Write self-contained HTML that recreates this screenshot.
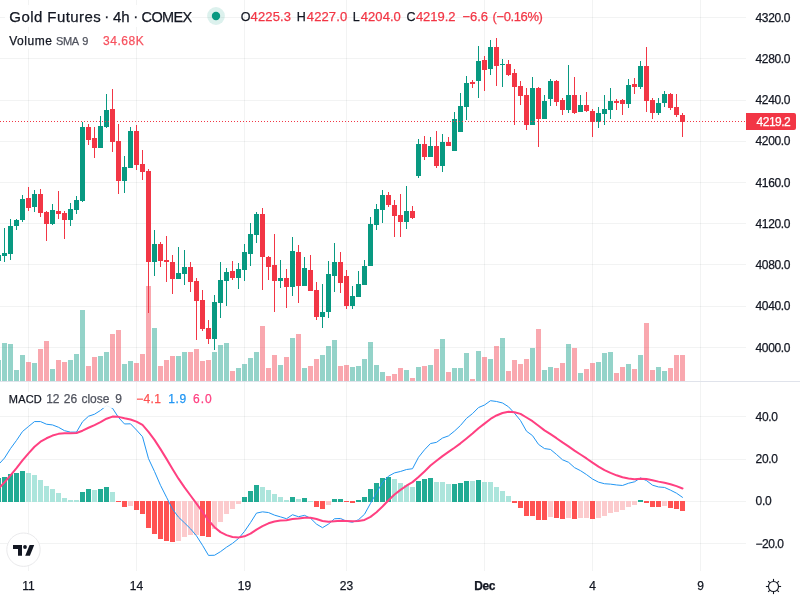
<!DOCTYPE html>
<html lang="en"><head><meta charset="utf-8"><title>Gold Futures 4h COMEX</title>
<style>html,body{margin:0;padding:0;background:#fff;width:800px;height:600px;overflow:hidden}svg{display:block;position:absolute;left:0;top:0}text{font-family:"Liberation Sans", Arial, sans-serif;white-space:pre;stroke-width:0.25px}</style>
</head><body>
<svg width="800" height="600" viewBox="0 0 800 600">
<rect width="800" height="600" fill="#fff"/>
<g shape-rendering="crispEdges" fill="#2A2E39" fill-opacity="0.06">
<rect x="28" y="0" width="1" height="381"/>
<rect x="28" y="382" width="1" height="189"/>
<rect x="136" y="0" width="1" height="381"/>
<rect x="136" y="382" width="1" height="189"/>
<rect x="244" y="0" width="1" height="381"/>
<rect x="244" y="382" width="1" height="189"/>
<rect x="346" y="0" width="1" height="381"/>
<rect x="346" y="382" width="1" height="189"/>
<rect x="484" y="0" width="1" height="381"/>
<rect x="484" y="382" width="1" height="189"/>
<rect x="592" y="0" width="1" height="381"/>
<rect x="592" y="382" width="1" height="189"/>
<rect x="700" y="0" width="1" height="381"/>
<rect x="700" y="382" width="1" height="189"/>
<rect x="0" y="17" width="746" height="1"/>
<rect x="0" y="58" width="746" height="1"/>
<rect x="0" y="100" width="746" height="1"/>
<rect x="0" y="141" width="746" height="1"/>
<rect x="0" y="182" width="746" height="1"/>
<rect x="0" y="223" width="746" height="1"/>
<rect x="0" y="264" width="746" height="1"/>
<rect x="0" y="306" width="746" height="1"/>
<rect x="0" y="347" width="746" height="1"/>
<rect x="0" y="416" width="746" height="1"/>
<rect x="0" y="459" width="746" height="1"/>
<rect x="0" y="501" width="746" height="1"/>
<rect x="0" y="543" width="746" height="1"/>
</g>
<g shape-rendering="crispEdges">
<rect x="-4" y="360" width="5" height="21" fill="#089981" fill-opacity="0.43"/>
<rect x="2" y="343" width="5" height="38" fill="#089981" fill-opacity="0.43"/>
<rect x="8" y="344" width="5" height="37" fill="#089981" fill-opacity="0.43"/>
<rect x="14" y="370" width="5" height="11" fill="#089981" fill-opacity="0.43"/>
<rect x="20" y="355" width="5" height="26" fill="#089981" fill-opacity="0.43"/>
<rect x="26" y="362" width="5" height="19" fill="#F23645" fill-opacity="0.43"/>
<rect x="32" y="363" width="5" height="18" fill="#089981" fill-opacity="0.43"/>
<rect x="38" y="349" width="5" height="32" fill="#F23645" fill-opacity="0.43"/>
<rect x="44" y="341" width="5" height="40" fill="#F23645" fill-opacity="0.43"/>
<rect x="50" y="369" width="5" height="12" fill="#089981" fill-opacity="0.43"/>
<rect x="56" y="360" width="5" height="21" fill="#F23645" fill-opacity="0.43"/>
<rect x="62" y="362" width="5" height="19" fill="#F23645" fill-opacity="0.43"/>
<rect x="68" y="360" width="5" height="21" fill="#089981" fill-opacity="0.43"/>
<rect x="74" y="354" width="5" height="27" fill="#089981" fill-opacity="0.43"/>
<rect x="80" y="310" width="5" height="71" fill="#089981" fill-opacity="0.43"/>
<rect x="86" y="366" width="5" height="15" fill="#F23645" fill-opacity="0.43"/>
<rect x="92" y="357" width="5" height="24" fill="#F23645" fill-opacity="0.43"/>
<rect x="98" y="356" width="5" height="25" fill="#089981" fill-opacity="0.43"/>
<rect x="104" y="352" width="5" height="29" fill="#089981" fill-opacity="0.43"/>
<rect x="110" y="334" width="5" height="47" fill="#F23645" fill-opacity="0.43"/>
<rect x="116" y="330" width="5" height="51" fill="#F23645" fill-opacity="0.43"/>
<rect x="122" y="364" width="5" height="17" fill="#089981" fill-opacity="0.43"/>
<rect x="128" y="361" width="5" height="20" fill="#089981" fill-opacity="0.43"/>
<rect x="134" y="363" width="5" height="18" fill="#F23645" fill-opacity="0.43"/>
<rect x="140" y="354" width="5" height="27" fill="#F23645" fill-opacity="0.43"/>
<rect x="146" y="286" width="5" height="95" fill="#F23645" fill-opacity="0.43"/>
<rect x="152" y="328" width="5" height="53" fill="#089981" fill-opacity="0.43"/>
<rect x="158" y="366" width="5" height="15" fill="#F23645" fill-opacity="0.43"/>
<rect x="164" y="360" width="5" height="21" fill="#F23645" fill-opacity="0.43"/>
<rect x="170" y="356" width="5" height="25" fill="#F23645" fill-opacity="0.43"/>
<rect x="176" y="356" width="5" height="25" fill="#089981" fill-opacity="0.43"/>
<rect x="182" y="352" width="5" height="29" fill="#089981" fill-opacity="0.43"/>
<rect x="188" y="352" width="5" height="29" fill="#F23645" fill-opacity="0.43"/>
<rect x="194" y="349" width="5" height="32" fill="#F23645" fill-opacity="0.43"/>
<rect x="200" y="361" width="5" height="20" fill="#F23645" fill-opacity="0.43"/>
<rect x="206" y="360" width="5" height="21" fill="#F23645" fill-opacity="0.43"/>
<rect x="212" y="352" width="5" height="29" fill="#089981" fill-opacity="0.43"/>
<rect x="218" y="345" width="5" height="36" fill="#089981" fill-opacity="0.43"/>
<rect x="224" y="343" width="5" height="38" fill="#089981" fill-opacity="0.43"/>
<rect x="230" y="371" width="5" height="10" fill="#F23645" fill-opacity="0.43"/>
<rect x="236" y="368" width="5" height="13" fill="#089981" fill-opacity="0.43"/>
<rect x="242" y="364" width="5" height="17" fill="#089981" fill-opacity="0.43"/>
<rect x="248" y="358" width="5" height="23" fill="#089981" fill-opacity="0.43"/>
<rect x="254" y="352" width="5" height="29" fill="#089981" fill-opacity="0.43"/>
<rect x="260" y="326" width="5" height="55" fill="#F23645" fill-opacity="0.43"/>
<rect x="266" y="368" width="5" height="13" fill="#F23645" fill-opacity="0.43"/>
<rect x="272" y="355" width="5" height="26" fill="#F23645" fill-opacity="0.43"/>
<rect x="278" y="365" width="5" height="16" fill="#089981" fill-opacity="0.43"/>
<rect x="284" y="357" width="5" height="24" fill="#F23645" fill-opacity="0.43"/>
<rect x="290" y="338" width="5" height="43" fill="#089981" fill-opacity="0.43"/>
<rect x="296" y="334" width="5" height="47" fill="#F23645" fill-opacity="0.43"/>
<rect x="302" y="368" width="5" height="13" fill="#089981" fill-opacity="0.43"/>
<rect x="308" y="366" width="5" height="15" fill="#F23645" fill-opacity="0.43"/>
<rect x="314" y="359" width="5" height="22" fill="#F23645" fill-opacity="0.43"/>
<rect x="320" y="355" width="5" height="26" fill="#089981" fill-opacity="0.43"/>
<rect x="326" y="346" width="5" height="35" fill="#089981" fill-opacity="0.43"/>
<rect x="332" y="340" width="5" height="41" fill="#089981" fill-opacity="0.43"/>
<rect x="338" y="366" width="5" height="15" fill="#F23645" fill-opacity="0.43"/>
<rect x="344" y="365" width="5" height="16" fill="#F23645" fill-opacity="0.43"/>
<rect x="350" y="367" width="5" height="14" fill="#089981" fill-opacity="0.43"/>
<rect x="356" y="366" width="5" height="15" fill="#089981" fill-opacity="0.43"/>
<rect x="362" y="359" width="5" height="22" fill="#089981" fill-opacity="0.43"/>
<rect x="368" y="342" width="5" height="39" fill="#089981" fill-opacity="0.43"/>
<rect x="374" y="365" width="5" height="16" fill="#089981" fill-opacity="0.43"/>
<rect x="380" y="372" width="5" height="9" fill="#089981" fill-opacity="0.43"/>
<rect x="386" y="376" width="5" height="5" fill="#F23645" fill-opacity="0.43"/>
<rect x="392" y="374" width="5" height="7" fill="#F23645" fill-opacity="0.43"/>
<rect x="398" y="368" width="5" height="13" fill="#F23645" fill-opacity="0.43"/>
<rect x="404" y="370" width="5" height="11" fill="#089981" fill-opacity="0.43"/>
<rect x="410" y="378" width="5" height="3" fill="#F23645" fill-opacity="0.43"/>
<rect x="416" y="367" width="5" height="14" fill="#089981" fill-opacity="0.43"/>
<rect x="422" y="366" width="5" height="15" fill="#F23645" fill-opacity="0.43"/>
<rect x="428" y="365" width="5" height="16" fill="#089981" fill-opacity="0.43"/>
<rect x="434" y="349" width="5" height="32" fill="#F23645" fill-opacity="0.43"/>
<rect x="440" y="339" width="5" height="42" fill="#089981" fill-opacity="0.43"/>
<rect x="446" y="372" width="5" height="9" fill="#F23645" fill-opacity="0.43"/>
<rect x="452" y="368" width="5" height="13" fill="#089981" fill-opacity="0.43"/>
<rect x="458" y="368" width="5" height="13" fill="#089981" fill-opacity="0.43"/>
<rect x="464" y="353" width="5" height="28" fill="#089981" fill-opacity="0.43"/>
<rect x="470" y="379" width="5" height="2" fill="#F23645" fill-opacity="0.43"/>
<rect x="476" y="351" width="5" height="30" fill="#089981" fill-opacity="0.43"/>
<rect x="482" y="357" width="5" height="24" fill="#F23645" fill-opacity="0.43"/>
<rect x="488" y="359" width="5" height="22" fill="#089981" fill-opacity="0.43"/>
<rect x="494" y="346" width="5" height="35" fill="#F23645" fill-opacity="0.43"/>
<rect x="500" y="338" width="5" height="43" fill="#089981" fill-opacity="0.43"/>
<rect x="506" y="371" width="5" height="10" fill="#F23645" fill-opacity="0.43"/>
<rect x="512" y="360" width="5" height="21" fill="#F23645" fill-opacity="0.43"/>
<rect x="518" y="364" width="5" height="17" fill="#F23645" fill-opacity="0.43"/>
<rect x="524" y="359" width="5" height="22" fill="#F23645" fill-opacity="0.43"/>
<rect x="530" y="348" width="5" height="33" fill="#089981" fill-opacity="0.43"/>
<rect x="536" y="329" width="5" height="52" fill="#F23645" fill-opacity="0.43"/>
<rect x="542" y="370" width="5" height="11" fill="#089981" fill-opacity="0.43"/>
<rect x="548" y="367" width="5" height="14" fill="#089981" fill-opacity="0.43"/>
<rect x="554" y="368" width="5" height="13" fill="#F23645" fill-opacity="0.43"/>
<rect x="560" y="363" width="5" height="18" fill="#F23645" fill-opacity="0.43"/>
<rect x="566" y="344" width="5" height="37" fill="#089981" fill-opacity="0.43"/>
<rect x="572" y="348" width="5" height="33" fill="#F23645" fill-opacity="0.43"/>
<rect x="578" y="373" width="5" height="8" fill="#089981" fill-opacity="0.43"/>
<rect x="584" y="369" width="5" height="12" fill="#F23645" fill-opacity="0.43"/>
<rect x="590" y="363" width="5" height="18" fill="#F23645" fill-opacity="0.43"/>
<rect x="596" y="362" width="5" height="19" fill="#089981" fill-opacity="0.43"/>
<rect x="602" y="353" width="5" height="28" fill="#089981" fill-opacity="0.43"/>
<rect x="608" y="352" width="5" height="29" fill="#089981" fill-opacity="0.43"/>
<rect x="614" y="373" width="5" height="8" fill="#F23645" fill-opacity="0.43"/>
<rect x="620" y="367" width="5" height="14" fill="#F23645" fill-opacity="0.43"/>
<rect x="626" y="364" width="5" height="17" fill="#089981" fill-opacity="0.43"/>
<rect x="632" y="369" width="5" height="12" fill="#F23645" fill-opacity="0.43"/>
<rect x="638" y="355" width="5" height="26" fill="#089981" fill-opacity="0.43"/>
<rect x="644" y="323" width="5" height="58" fill="#F23645" fill-opacity="0.43"/>
<rect x="650" y="370" width="5" height="11" fill="#F23645" fill-opacity="0.43"/>
<rect x="656" y="367" width="5" height="14" fill="#089981" fill-opacity="0.43"/>
<rect x="662" y="371" width="5" height="10" fill="#089981" fill-opacity="0.43"/>
<rect x="668" y="368" width="5" height="13" fill="#F23645" fill-opacity="0.43"/>
<rect x="674" y="355" width="5" height="26" fill="#F23645" fill-opacity="0.43"/>
<rect x="680" y="355" width="5" height="26" fill="#F23645" fill-opacity="0.43"/>
</g>
<g shape-rendering="crispEdges">
<rect x="-2" y="250" width="1" height="13" fill="#089981"/>
<rect x="-4" y="255" width="5" height="6" fill="#089981"/>
<rect x="4" y="228" width="1" height="34" fill="#089981"/>
<rect x="2" y="253" width="5" height="3" fill="#089981"/>
<rect x="10" y="219" width="1" height="41" fill="#089981"/>
<rect x="8" y="226" width="5" height="28" fill="#089981"/>
<rect x="16" y="219" width="1" height="11" fill="#089981"/>
<rect x="14" y="220" width="5" height="6" fill="#089981"/>
<rect x="22" y="195" width="1" height="27" fill="#089981"/>
<rect x="20" y="199" width="5" height="21" fill="#089981"/>
<rect x="28" y="187" width="1" height="24" fill="#F23645"/>
<rect x="26" y="198" width="5" height="10" fill="#F23645"/>
<rect x="34" y="190" width="1" height="22" fill="#089981"/>
<rect x="32" y="194" width="5" height="13" fill="#089981"/>
<rect x="40" y="189" width="1" height="28" fill="#F23645"/>
<rect x="38" y="194" width="5" height="19" fill="#F23645"/>
<rect x="46" y="211" width="1" height="30" fill="#F23645"/>
<rect x="44" y="212" width="5" height="12" fill="#F23645"/>
<rect x="52" y="204" width="1" height="21" fill="#089981"/>
<rect x="50" y="210" width="5" height="14" fill="#089981"/>
<rect x="58" y="191" width="1" height="28" fill="#F23645"/>
<rect x="56" y="211" width="5" height="3" fill="#F23645"/>
<rect x="64" y="211" width="1" height="28" fill="#F23645"/>
<rect x="62" y="213" width="5" height="7" fill="#F23645"/>
<rect x="70" y="203" width="1" height="23" fill="#089981"/>
<rect x="68" y="209" width="5" height="11" fill="#089981"/>
<rect x="76" y="196" width="1" height="18" fill="#089981"/>
<rect x="74" y="200" width="5" height="10" fill="#089981"/>
<rect x="82" y="122" width="1" height="80" fill="#089981"/>
<rect x="80" y="127" width="5" height="74" fill="#089981"/>
<rect x="88" y="124" width="1" height="21" fill="#F23645"/>
<rect x="86" y="127" width="5" height="13" fill="#F23645"/>
<rect x="94" y="127" width="1" height="31" fill="#F23645"/>
<rect x="92" y="138" width="5" height="10" fill="#F23645"/>
<rect x="100" y="116" width="1" height="32" fill="#089981"/>
<rect x="98" y="126" width="5" height="22" fill="#089981"/>
<rect x="106" y="94" width="1" height="34" fill="#089981"/>
<rect x="104" y="110" width="5" height="17" fill="#089981"/>
<rect x="112" y="89" width="1" height="63" fill="#F23645"/>
<rect x="110" y="109" width="5" height="33" fill="#F23645"/>
<rect x="118" y="124" width="1" height="70" fill="#F23645"/>
<rect x="116" y="141" width="5" height="40" fill="#F23645"/>
<rect x="124" y="156" width="1" height="37" fill="#089981"/>
<rect x="122" y="167" width="5" height="14" fill="#089981"/>
<rect x="130" y="127" width="1" height="41" fill="#089981"/>
<rect x="128" y="131" width="5" height="37" fill="#089981"/>
<rect x="136" y="125" width="1" height="45" fill="#F23645"/>
<rect x="134" y="131" width="5" height="34" fill="#F23645"/>
<rect x="142" y="150" width="1" height="30" fill="#F23645"/>
<rect x="140" y="164" width="5" height="8" fill="#F23645"/>
<rect x="148" y="169" width="1" height="144" fill="#F23645"/>
<rect x="146" y="171" width="5" height="91" fill="#F23645"/>
<rect x="154" y="230" width="1" height="46" fill="#089981"/>
<rect x="152" y="244" width="5" height="18" fill="#089981"/>
<rect x="160" y="242" width="1" height="25" fill="#F23645"/>
<rect x="158" y="244" width="5" height="17" fill="#F23645"/>
<rect x="166" y="236" width="1" height="46" fill="#F23645"/>
<rect x="164" y="260" width="5" height="2" fill="#F23645"/>
<rect x="172" y="255" width="1" height="39" fill="#F23645"/>
<rect x="170" y="262" width="5" height="17" fill="#F23645"/>
<rect x="178" y="247" width="1" height="32" fill="#089981"/>
<rect x="176" y="273" width="5" height="6" fill="#089981"/>
<rect x="184" y="250" width="1" height="35" fill="#089981"/>
<rect x="182" y="267" width="5" height="7" fill="#089981"/>
<rect x="190" y="262" width="1" height="30" fill="#F23645"/>
<rect x="188" y="267" width="5" height="15" fill="#F23645"/>
<rect x="196" y="278" width="1" height="62" fill="#F23645"/>
<rect x="194" y="281" width="5" height="20" fill="#F23645"/>
<rect x="202" y="290" width="1" height="41" fill="#F23645"/>
<rect x="200" y="300" width="5" height="29" fill="#F23645"/>
<rect x="208" y="320" width="1" height="24" fill="#F23645"/>
<rect x="206" y="328" width="5" height="11" fill="#F23645"/>
<rect x="214" y="295" width="1" height="55" fill="#089981"/>
<rect x="212" y="302" width="5" height="37" fill="#089981"/>
<rect x="220" y="262" width="1" height="56" fill="#089981"/>
<rect x="218" y="280" width="5" height="23" fill="#089981"/>
<rect x="226" y="268" width="1" height="38" fill="#089981"/>
<rect x="224" y="272" width="5" height="9" fill="#089981"/>
<rect x="232" y="261" width="1" height="19" fill="#F23645"/>
<rect x="230" y="271" width="5" height="7" fill="#F23645"/>
<rect x="238" y="263" width="1" height="26" fill="#089981"/>
<rect x="236" y="269" width="5" height="9" fill="#089981"/>
<rect x="244" y="244" width="1" height="37" fill="#089981"/>
<rect x="242" y="252" width="5" height="18" fill="#089981"/>
<rect x="250" y="223" width="1" height="43" fill="#089981"/>
<rect x="248" y="234" width="5" height="20" fill="#089981"/>
<rect x="256" y="212" width="1" height="31" fill="#089981"/>
<rect x="254" y="214" width="5" height="21" fill="#089981"/>
<rect x="262" y="208" width="1" height="82" fill="#F23645"/>
<rect x="260" y="214" width="5" height="43" fill="#F23645"/>
<rect x="268" y="256" width="1" height="24" fill="#F23645"/>
<rect x="266" y="257" width="5" height="10" fill="#F23645"/>
<rect x="274" y="234" width="1" height="78" fill="#F23645"/>
<rect x="272" y="265" width="5" height="16" fill="#F23645"/>
<rect x="280" y="260" width="1" height="28" fill="#089981"/>
<rect x="278" y="278" width="5" height="3" fill="#089981"/>
<rect x="286" y="269" width="1" height="39" fill="#F23645"/>
<rect x="284" y="278" width="5" height="9" fill="#F23645"/>
<rect x="292" y="237" width="1" height="59" fill="#089981"/>
<rect x="290" y="251" width="5" height="36" fill="#089981"/>
<rect x="298" y="245" width="1" height="58" fill="#F23645"/>
<rect x="296" y="252" width="5" height="34" fill="#F23645"/>
<rect x="304" y="257" width="1" height="29" fill="#089981"/>
<rect x="302" y="268" width="5" height="18" fill="#089981"/>
<rect x="310" y="255" width="1" height="36" fill="#F23645"/>
<rect x="308" y="270" width="5" height="21" fill="#F23645"/>
<rect x="316" y="282" width="1" height="38" fill="#F23645"/>
<rect x="314" y="290" width="5" height="27" fill="#F23645"/>
<rect x="322" y="284" width="1" height="44" fill="#089981"/>
<rect x="320" y="312" width="5" height="5" fill="#089981"/>
<rect x="328" y="261" width="1" height="57" fill="#089981"/>
<rect x="326" y="274" width="5" height="38" fill="#089981"/>
<rect x="334" y="243" width="1" height="49" fill="#089981"/>
<rect x="332" y="262" width="5" height="14" fill="#089981"/>
<rect x="340" y="252" width="1" height="41" fill="#F23645"/>
<rect x="338" y="262" width="5" height="21" fill="#F23645"/>
<rect x="346" y="270" width="1" height="39" fill="#F23645"/>
<rect x="344" y="276" width="5" height="30" fill="#F23645"/>
<rect x="352" y="286" width="1" height="23" fill="#089981"/>
<rect x="350" y="296" width="5" height="10" fill="#089981"/>
<rect x="358" y="271" width="1" height="26" fill="#089981"/>
<rect x="356" y="284" width="5" height="13" fill="#089981"/>
<rect x="364" y="260" width="1" height="25" fill="#089981"/>
<rect x="362" y="266" width="5" height="19" fill="#089981"/>
<rect x="370" y="217" width="1" height="49" fill="#089981"/>
<rect x="368" y="224" width="5" height="42" fill="#089981"/>
<rect x="376" y="204" width="1" height="26" fill="#089981"/>
<rect x="374" y="209" width="5" height="16" fill="#089981"/>
<rect x="382" y="190" width="1" height="33" fill="#089981"/>
<rect x="380" y="195" width="5" height="15" fill="#089981"/>
<rect x="388" y="192" width="1" height="15" fill="#F23645"/>
<rect x="386" y="195" width="5" height="10" fill="#F23645"/>
<rect x="394" y="200" width="1" height="37" fill="#F23645"/>
<rect x="392" y="205" width="5" height="11" fill="#F23645"/>
<rect x="400" y="194" width="1" height="43" fill="#F23645"/>
<rect x="398" y="215" width="5" height="7" fill="#F23645"/>
<rect x="406" y="186" width="1" height="43" fill="#089981"/>
<rect x="404" y="211" width="5" height="11" fill="#089981"/>
<rect x="412" y="206" width="1" height="13" fill="#F23645"/>
<rect x="410" y="211" width="5" height="7" fill="#F23645"/>
<rect x="418" y="139" width="1" height="39" fill="#089981"/>
<rect x="416" y="144" width="5" height="32" fill="#089981"/>
<rect x="424" y="136" width="1" height="24" fill="#F23645"/>
<rect x="422" y="144" width="5" height="13" fill="#F23645"/>
<rect x="430" y="137" width="1" height="20" fill="#089981"/>
<rect x="428" y="146" width="5" height="11" fill="#089981"/>
<rect x="436" y="131" width="1" height="37" fill="#F23645"/>
<rect x="434" y="146" width="5" height="20" fill="#F23645"/>
<rect x="442" y="134" width="1" height="38" fill="#089981"/>
<rect x="440" y="142" width="5" height="24" fill="#089981"/>
<rect x="448" y="137" width="1" height="9" fill="#F23645"/>
<rect x="446" y="142" width="5" height="4" fill="#F23645"/>
<rect x="454" y="112" width="1" height="39" fill="#089981"/>
<rect x="452" y="119" width="5" height="32" fill="#089981"/>
<rect x="460" y="93" width="1" height="39" fill="#089981"/>
<rect x="458" y="106" width="5" height="26" fill="#089981"/>
<rect x="466" y="76" width="1" height="44" fill="#089981"/>
<rect x="464" y="83" width="5" height="24" fill="#089981"/>
<rect x="472" y="80" width="1" height="8" fill="#F23645"/>
<rect x="470" y="82" width="5" height="2" fill="#F23645"/>
<rect x="478" y="46" width="1" height="52" fill="#089981"/>
<rect x="476" y="61" width="5" height="20" fill="#089981"/>
<rect x="484" y="56" width="1" height="35" fill="#F23645"/>
<rect x="482" y="60" width="5" height="10" fill="#F23645"/>
<rect x="490" y="40" width="1" height="35" fill="#089981"/>
<rect x="488" y="47" width="5" height="22" fill="#089981"/>
<rect x="496" y="38" width="1" height="48" fill="#F23645"/>
<rect x="494" y="47" width="5" height="19" fill="#F23645"/>
<rect x="502" y="59" width="1" height="28" fill="#089981"/>
<rect x="500" y="64" width="5" height="1" fill="#089981"/>
<rect x="508" y="60" width="1" height="16" fill="#F23645"/>
<rect x="506" y="64" width="5" height="11" fill="#F23645"/>
<rect x="514" y="69" width="1" height="56" fill="#F23645"/>
<rect x="512" y="73" width="5" height="14" fill="#F23645"/>
<rect x="520" y="81" width="1" height="24" fill="#F23645"/>
<rect x="518" y="86" width="5" height="10" fill="#F23645"/>
<rect x="526" y="88" width="1" height="42" fill="#F23645"/>
<rect x="524" y="95" width="5" height="30" fill="#F23645"/>
<rect x="532" y="77" width="1" height="48" fill="#089981"/>
<rect x="530" y="88" width="5" height="37" fill="#089981"/>
<rect x="538" y="87" width="1" height="60" fill="#F23645"/>
<rect x="536" y="88" width="5" height="31" fill="#F23645"/>
<rect x="544" y="95" width="1" height="24" fill="#089981"/>
<rect x="542" y="101" width="5" height="18" fill="#089981"/>
<rect x="550" y="79" width="1" height="27" fill="#089981"/>
<rect x="548" y="81" width="5" height="18" fill="#089981"/>
<rect x="556" y="80" width="1" height="26" fill="#F23645"/>
<rect x="554" y="81" width="5" height="21" fill="#F23645"/>
<rect x="562" y="98" width="1" height="17" fill="#F23645"/>
<rect x="560" y="100" width="5" height="10" fill="#F23645"/>
<rect x="568" y="65" width="1" height="48" fill="#089981"/>
<rect x="566" y="95" width="5" height="15" fill="#089981"/>
<rect x="574" y="77" width="1" height="37" fill="#F23645"/>
<rect x="572" y="95" width="5" height="18" fill="#F23645"/>
<rect x="580" y="95" width="1" height="17" fill="#089981"/>
<rect x="578" y="105" width="5" height="7" fill="#089981"/>
<rect x="586" y="92" width="1" height="20" fill="#F23645"/>
<rect x="584" y="105" width="5" height="6" fill="#F23645"/>
<rect x="592" y="109" width="1" height="28" fill="#F23645"/>
<rect x="590" y="111" width="5" height="11" fill="#F23645"/>
<rect x="598" y="107" width="1" height="21" fill="#089981"/>
<rect x="596" y="113" width="5" height="9" fill="#089981"/>
<rect x="604" y="95" width="1" height="30" fill="#089981"/>
<rect x="602" y="109" width="5" height="5" fill="#089981"/>
<rect x="610" y="88" width="1" height="31" fill="#089981"/>
<rect x="608" y="101" width="5" height="9" fill="#089981"/>
<rect x="616" y="99" width="1" height="11" fill="#F23645"/>
<rect x="614" y="101" width="5" height="2" fill="#F23645"/>
<rect x="622" y="99" width="1" height="16" fill="#F23645"/>
<rect x="620" y="100" width="5" height="4" fill="#F23645"/>
<rect x="628" y="79" width="1" height="29" fill="#089981"/>
<rect x="626" y="85" width="5" height="19" fill="#089981"/>
<rect x="634" y="78" width="1" height="16" fill="#F23645"/>
<rect x="632" y="84" width="5" height="3" fill="#F23645"/>
<rect x="640" y="61" width="1" height="28" fill="#089981"/>
<rect x="638" y="66" width="5" height="21" fill="#089981"/>
<rect x="646" y="47" width="1" height="65" fill="#F23645"/>
<rect x="644" y="66" width="5" height="35" fill="#F23645"/>
<rect x="652" y="98" width="1" height="21" fill="#F23645"/>
<rect x="650" y="100" width="5" height="13" fill="#F23645"/>
<rect x="658" y="98" width="1" height="17" fill="#089981"/>
<rect x="656" y="103" width="5" height="10" fill="#089981"/>
<rect x="664" y="91" width="1" height="16" fill="#089981"/>
<rect x="662" y="94" width="5" height="9" fill="#089981"/>
<rect x="670" y="93" width="1" height="17" fill="#F23645"/>
<rect x="668" y="94" width="5" height="14" fill="#F23645"/>
<rect x="676" y="94" width="1" height="23" fill="#F23645"/>
<rect x="674" y="107" width="5" height="8" fill="#F23645"/>
<rect x="682" y="113" width="1" height="24" fill="#F23645"/>
<rect x="680" y="115" width="5" height="7" fill="#F23645"/>
</g>
<g shape-rendering="crispEdges" fill="#F23645">
<rect x="0" y="121" width="1" height="1"/><rect x="3" y="121" width="1" height="1"/><rect x="6" y="121" width="1" height="1"/><rect x="9" y="121" width="1" height="1"/><rect x="12" y="121" width="1" height="1"/><rect x="15" y="121" width="1" height="1"/><rect x="18" y="121" width="1" height="1"/><rect x="21" y="121" width="1" height="1"/><rect x="24" y="121" width="1" height="1"/><rect x="27" y="121" width="1" height="1"/><rect x="30" y="121" width="1" height="1"/><rect x="33" y="121" width="1" height="1"/><rect x="36" y="121" width="1" height="1"/><rect x="39" y="121" width="1" height="1"/><rect x="42" y="121" width="1" height="1"/><rect x="45" y="121" width="1" height="1"/><rect x="48" y="121" width="1" height="1"/><rect x="51" y="121" width="1" height="1"/><rect x="54" y="121" width="1" height="1"/><rect x="57" y="121" width="1" height="1"/><rect x="60" y="121" width="1" height="1"/><rect x="63" y="121" width="1" height="1"/><rect x="66" y="121" width="1" height="1"/><rect x="69" y="121" width="1" height="1"/><rect x="72" y="121" width="1" height="1"/><rect x="75" y="121" width="1" height="1"/><rect x="78" y="121" width="1" height="1"/><rect x="81" y="121" width="1" height="1"/><rect x="84" y="121" width="1" height="1"/><rect x="87" y="121" width="1" height="1"/><rect x="90" y="121" width="1" height="1"/><rect x="93" y="121" width="1" height="1"/><rect x="96" y="121" width="1" height="1"/><rect x="99" y="121" width="1" height="1"/><rect x="102" y="121" width="1" height="1"/><rect x="105" y="121" width="1" height="1"/><rect x="108" y="121" width="1" height="1"/><rect x="111" y="121" width="1" height="1"/><rect x="114" y="121" width="1" height="1"/><rect x="117" y="121" width="1" height="1"/><rect x="120" y="121" width="1" height="1"/><rect x="123" y="121" width="1" height="1"/><rect x="126" y="121" width="1" height="1"/><rect x="129" y="121" width="1" height="1"/><rect x="132" y="121" width="1" height="1"/><rect x="135" y="121" width="1" height="1"/><rect x="138" y="121" width="1" height="1"/><rect x="141" y="121" width="1" height="1"/><rect x="144" y="121" width="1" height="1"/><rect x="147" y="121" width="1" height="1"/><rect x="150" y="121" width="1" height="1"/><rect x="153" y="121" width="1" height="1"/><rect x="156" y="121" width="1" height="1"/><rect x="159" y="121" width="1" height="1"/><rect x="162" y="121" width="1" height="1"/><rect x="165" y="121" width="1" height="1"/><rect x="168" y="121" width="1" height="1"/><rect x="171" y="121" width="1" height="1"/><rect x="174" y="121" width="1" height="1"/><rect x="177" y="121" width="1" height="1"/><rect x="180" y="121" width="1" height="1"/><rect x="183" y="121" width="1" height="1"/><rect x="186" y="121" width="1" height="1"/><rect x="189" y="121" width="1" height="1"/><rect x="192" y="121" width="1" height="1"/><rect x="195" y="121" width="1" height="1"/><rect x="198" y="121" width="1" height="1"/><rect x="201" y="121" width="1" height="1"/><rect x="204" y="121" width="1" height="1"/><rect x="207" y="121" width="1" height="1"/><rect x="210" y="121" width="1" height="1"/><rect x="213" y="121" width="1" height="1"/><rect x="216" y="121" width="1" height="1"/><rect x="219" y="121" width="1" height="1"/><rect x="222" y="121" width="1" height="1"/><rect x="225" y="121" width="1" height="1"/><rect x="228" y="121" width="1" height="1"/><rect x="231" y="121" width="1" height="1"/><rect x="234" y="121" width="1" height="1"/><rect x="237" y="121" width="1" height="1"/><rect x="240" y="121" width="1" height="1"/><rect x="243" y="121" width="1" height="1"/><rect x="246" y="121" width="1" height="1"/><rect x="249" y="121" width="1" height="1"/><rect x="252" y="121" width="1" height="1"/><rect x="255" y="121" width="1" height="1"/><rect x="258" y="121" width="1" height="1"/><rect x="261" y="121" width="1" height="1"/><rect x="264" y="121" width="1" height="1"/><rect x="267" y="121" width="1" height="1"/><rect x="270" y="121" width="1" height="1"/><rect x="273" y="121" width="1" height="1"/><rect x="276" y="121" width="1" height="1"/><rect x="279" y="121" width="1" height="1"/><rect x="282" y="121" width="1" height="1"/><rect x="285" y="121" width="1" height="1"/><rect x="288" y="121" width="1" height="1"/><rect x="291" y="121" width="1" height="1"/><rect x="294" y="121" width="1" height="1"/><rect x="297" y="121" width="1" height="1"/><rect x="300" y="121" width="1" height="1"/><rect x="303" y="121" width="1" height="1"/><rect x="306" y="121" width="1" height="1"/><rect x="309" y="121" width="1" height="1"/><rect x="312" y="121" width="1" height="1"/><rect x="315" y="121" width="1" height="1"/><rect x="318" y="121" width="1" height="1"/><rect x="321" y="121" width="1" height="1"/><rect x="324" y="121" width="1" height="1"/><rect x="327" y="121" width="1" height="1"/><rect x="330" y="121" width="1" height="1"/><rect x="333" y="121" width="1" height="1"/><rect x="336" y="121" width="1" height="1"/><rect x="339" y="121" width="1" height="1"/><rect x="342" y="121" width="1" height="1"/><rect x="345" y="121" width="1" height="1"/><rect x="348" y="121" width="1" height="1"/><rect x="351" y="121" width="1" height="1"/><rect x="354" y="121" width="1" height="1"/><rect x="357" y="121" width="1" height="1"/><rect x="360" y="121" width="1" height="1"/><rect x="363" y="121" width="1" height="1"/><rect x="366" y="121" width="1" height="1"/><rect x="369" y="121" width="1" height="1"/><rect x="372" y="121" width="1" height="1"/><rect x="375" y="121" width="1" height="1"/><rect x="378" y="121" width="1" height="1"/><rect x="381" y="121" width="1" height="1"/><rect x="384" y="121" width="1" height="1"/><rect x="387" y="121" width="1" height="1"/><rect x="390" y="121" width="1" height="1"/><rect x="393" y="121" width="1" height="1"/><rect x="396" y="121" width="1" height="1"/><rect x="399" y="121" width="1" height="1"/><rect x="402" y="121" width="1" height="1"/><rect x="405" y="121" width="1" height="1"/><rect x="408" y="121" width="1" height="1"/><rect x="411" y="121" width="1" height="1"/><rect x="414" y="121" width="1" height="1"/><rect x="417" y="121" width="1" height="1"/><rect x="420" y="121" width="1" height="1"/><rect x="423" y="121" width="1" height="1"/><rect x="426" y="121" width="1" height="1"/><rect x="429" y="121" width="1" height="1"/><rect x="432" y="121" width="1" height="1"/><rect x="435" y="121" width="1" height="1"/><rect x="438" y="121" width="1" height="1"/><rect x="441" y="121" width="1" height="1"/><rect x="444" y="121" width="1" height="1"/><rect x="447" y="121" width="1" height="1"/><rect x="450" y="121" width="1" height="1"/><rect x="453" y="121" width="1" height="1"/><rect x="456" y="121" width="1" height="1"/><rect x="459" y="121" width="1" height="1"/><rect x="462" y="121" width="1" height="1"/><rect x="465" y="121" width="1" height="1"/><rect x="468" y="121" width="1" height="1"/><rect x="471" y="121" width="1" height="1"/><rect x="474" y="121" width="1" height="1"/><rect x="477" y="121" width="1" height="1"/><rect x="480" y="121" width="1" height="1"/><rect x="483" y="121" width="1" height="1"/><rect x="486" y="121" width="1" height="1"/><rect x="489" y="121" width="1" height="1"/><rect x="492" y="121" width="1" height="1"/><rect x="495" y="121" width="1" height="1"/><rect x="498" y="121" width="1" height="1"/><rect x="501" y="121" width="1" height="1"/><rect x="504" y="121" width="1" height="1"/><rect x="507" y="121" width="1" height="1"/><rect x="510" y="121" width="1" height="1"/><rect x="513" y="121" width="1" height="1"/><rect x="516" y="121" width="1" height="1"/><rect x="519" y="121" width="1" height="1"/><rect x="522" y="121" width="1" height="1"/><rect x="525" y="121" width="1" height="1"/><rect x="528" y="121" width="1" height="1"/><rect x="531" y="121" width="1" height="1"/><rect x="534" y="121" width="1" height="1"/><rect x="537" y="121" width="1" height="1"/><rect x="540" y="121" width="1" height="1"/><rect x="543" y="121" width="1" height="1"/><rect x="546" y="121" width="1" height="1"/><rect x="549" y="121" width="1" height="1"/><rect x="552" y="121" width="1" height="1"/><rect x="555" y="121" width="1" height="1"/><rect x="558" y="121" width="1" height="1"/><rect x="561" y="121" width="1" height="1"/><rect x="564" y="121" width="1" height="1"/><rect x="567" y="121" width="1" height="1"/><rect x="570" y="121" width="1" height="1"/><rect x="573" y="121" width="1" height="1"/><rect x="576" y="121" width="1" height="1"/><rect x="579" y="121" width="1" height="1"/><rect x="582" y="121" width="1" height="1"/><rect x="585" y="121" width="1" height="1"/><rect x="588" y="121" width="1" height="1"/><rect x="591" y="121" width="1" height="1"/><rect x="594" y="121" width="1" height="1"/><rect x="597" y="121" width="1" height="1"/><rect x="600" y="121" width="1" height="1"/><rect x="603" y="121" width="1" height="1"/><rect x="606" y="121" width="1" height="1"/><rect x="609" y="121" width="1" height="1"/><rect x="612" y="121" width="1" height="1"/><rect x="615" y="121" width="1" height="1"/><rect x="618" y="121" width="1" height="1"/><rect x="621" y="121" width="1" height="1"/><rect x="624" y="121" width="1" height="1"/><rect x="627" y="121" width="1" height="1"/><rect x="630" y="121" width="1" height="1"/><rect x="633" y="121" width="1" height="1"/><rect x="636" y="121" width="1" height="1"/><rect x="639" y="121" width="1" height="1"/><rect x="642" y="121" width="1" height="1"/><rect x="645" y="121" width="1" height="1"/><rect x="648" y="121" width="1" height="1"/><rect x="651" y="121" width="1" height="1"/><rect x="654" y="121" width="1" height="1"/><rect x="657" y="121" width="1" height="1"/><rect x="660" y="121" width="1" height="1"/><rect x="663" y="121" width="1" height="1"/><rect x="666" y="121" width="1" height="1"/><rect x="669" y="121" width="1" height="1"/><rect x="672" y="121" width="1" height="1"/><rect x="675" y="121" width="1" height="1"/><rect x="678" y="121" width="1" height="1"/><rect x="681" y="121" width="1" height="1"/><rect x="684" y="121" width="1" height="1"/><rect x="687" y="121" width="1" height="1"/><rect x="690" y="121" width="1" height="1"/><rect x="693" y="121" width="1" height="1"/><rect x="696" y="121" width="1" height="1"/><rect x="699" y="121" width="1" height="1"/><rect x="702" y="121" width="1" height="1"/><rect x="705" y="121" width="1" height="1"/><rect x="708" y="121" width="1" height="1"/><rect x="711" y="121" width="1" height="1"/><rect x="714" y="121" width="1" height="1"/><rect x="717" y="121" width="1" height="1"/><rect x="720" y="121" width="1" height="1"/><rect x="723" y="121" width="1" height="1"/><rect x="726" y="121" width="1" height="1"/><rect x="729" y="121" width="1" height="1"/><rect x="732" y="121" width="1" height="1"/><rect x="735" y="121" width="1" height="1"/><rect x="738" y="121" width="1" height="1"/><rect x="741" y="121" width="1" height="1"/><rect x="744" y="121" width="1" height="1"/>
</g>
<rect x="0" y="381" width="800" height="1" fill="#E0E3EB" shape-rendering="crispEdges"/>
<g shape-rendering="crispEdges">
<rect x="-4" y="478" width="5" height="24" fill="#22AB94"/>
<rect x="2" y="477" width="5" height="25" fill="#22AB94"/>
<rect x="8" y="474" width="5" height="28" fill="#22AB94"/>
<rect x="14" y="473" width="5" height="29" fill="#22AB94"/>
<rect x="20" y="471" width="5" height="31" fill="#22AB94"/>
<rect x="26" y="473" width="5" height="29" fill="#ACE5DC"/>
<rect x="32" y="475" width="5" height="27" fill="#ACE5DC"/>
<rect x="38" y="480" width="5" height="22" fill="#ACE5DC"/>
<rect x="44" y="486" width="5" height="16" fill="#ACE5DC"/>
<rect x="50" y="489" width="5" height="13" fill="#ACE5DC"/>
<rect x="56" y="493" width="5" height="9" fill="#ACE5DC"/>
<rect x="62" y="498" width="5" height="4" fill="#ACE5DC"/>
<rect x="68" y="500" width="5" height="2" fill="#ACE5DC"/>
<rect x="74" y="500" width="5" height="2" fill="#ACE5DC"/>
<rect x="80" y="492" width="5" height="10" fill="#22AB94"/>
<rect x="86" y="489" width="5" height="13" fill="#22AB94"/>
<rect x="92" y="490" width="5" height="12" fill="#ACE5DC"/>
<rect x="98" y="489" width="5" height="13" fill="#22AB94"/>
<rect x="104" y="487" width="5" height="15" fill="#22AB94"/>
<rect x="110" y="492" width="5" height="10" fill="#ACE5DC"/>
<rect x="116" y="501" width="5" height="1" fill="#FF5252"/>
<rect x="122" y="501" width="5" height="6" fill="#FF5252"/>
<rect x="128" y="501" width="5" height="5" fill="#FCCBCD"/>
<rect x="134" y="501" width="5" height="9" fill="#FF5252"/>
<rect x="140" y="501" width="5" height="13" fill="#FF5252"/>
<rect x="146" y="501" width="5" height="27" fill="#FF5252"/>
<rect x="152" y="501" width="5" height="33" fill="#FF5252"/>
<rect x="158" y="501" width="5" height="38" fill="#FF5252"/>
<rect x="164" y="501" width="5" height="40" fill="#FF5252"/>
<rect x="170" y="501" width="5" height="41" fill="#FF5252"/>
<rect x="176" y="501" width="5" height="40" fill="#FCCBCD"/>
<rect x="182" y="501" width="5" height="36" fill="#FCCBCD"/>
<rect x="188" y="501" width="5" height="34" fill="#FCCBCD"/>
<rect x="194" y="501" width="5" height="34" fill="#FCCBCD"/>
<rect x="200" y="501" width="5" height="35" fill="#FF5252"/>
<rect x="206" y="501" width="5" height="36" fill="#FF5252"/>
<rect x="212" y="501" width="5" height="28" fill="#FCCBCD"/>
<rect x="218" y="501" width="5" height="21" fill="#FCCBCD"/>
<rect x="224" y="501" width="5" height="13" fill="#FCCBCD"/>
<rect x="230" y="501" width="5" height="8" fill="#FCCBCD"/>
<rect x="236" y="501" width="5" height="3" fill="#FCCBCD"/>
<rect x="242" y="497" width="5" height="5" fill="#22AB94"/>
<rect x="248" y="491" width="5" height="11" fill="#22AB94"/>
<rect x="254" y="485" width="5" height="17" fill="#22AB94"/>
<rect x="260" y="487" width="5" height="15" fill="#ACE5DC"/>
<rect x="266" y="490" width="5" height="12" fill="#ACE5DC"/>
<rect x="272" y="494" width="5" height="8" fill="#ACE5DC"/>
<rect x="278" y="497" width="5" height="5" fill="#ACE5DC"/>
<rect x="284" y="500" width="5" height="2" fill="#ACE5DC"/>
<rect x="290" y="497" width="5" height="5" fill="#22AB94"/>
<rect x="296" y="499" width="5" height="3" fill="#ACE5DC"/>
<rect x="302" y="498" width="5" height="4" fill="#22AB94"/>
<rect x="308" y="501" width="5" height="1" fill="#ACE5DC"/>
<rect x="314" y="501" width="5" height="6" fill="#FF5252"/>
<rect x="320" y="501" width="5" height="8" fill="#FF5252"/>
<rect x="326" y="501" width="5" height="4" fill="#FCCBCD"/>
<rect x="332" y="499" width="5" height="3" fill="#22AB94"/>
<rect x="338" y="499" width="5" height="3" fill="#22AB94"/>
<rect x="344" y="501" width="5" height="1" fill="#FF5252"/>
<rect x="350" y="501" width="5" height="2" fill="#FF5252"/>
<rect x="356" y="500" width="5" height="2" fill="#22AB94"/>
<rect x="362" y="497" width="5" height="5" fill="#22AB94"/>
<rect x="368" y="489" width="5" height="13" fill="#22AB94"/>
<rect x="374" y="483" width="5" height="19" fill="#22AB94"/>
<rect x="380" y="478" width="5" height="24" fill="#22AB94"/>
<rect x="386" y="477" width="5" height="25" fill="#22AB94"/>
<rect x="392" y="479" width="5" height="23" fill="#ACE5DC"/>
<rect x="398" y="483" width="5" height="19" fill="#ACE5DC"/>
<rect x="404" y="485" width="5" height="17" fill="#ACE5DC"/>
<rect x="410" y="487" width="5" height="15" fill="#ACE5DC"/>
<rect x="416" y="481" width="5" height="21" fill="#22AB94"/>
<rect x="422" y="479" width="5" height="23" fill="#22AB94"/>
<rect x="428" y="478" width="5" height="24" fill="#22AB94"/>
<rect x="434" y="482" width="5" height="20" fill="#ACE5DC"/>
<rect x="440" y="482" width="5" height="20" fill="#ACE5DC"/>
<rect x="446" y="484" width="5" height="18" fill="#ACE5DC"/>
<rect x="452" y="484" width="5" height="18" fill="#22AB94"/>
<rect x="458" y="483" width="5" height="19" fill="#22AB94"/>
<rect x="464" y="481" width="5" height="21" fill="#22AB94"/>
<rect x="470" y="481" width="5" height="21" fill="#ACE5DC"/>
<rect x="476" y="480" width="5" height="22" fill="#22AB94"/>
<rect x="482" y="482" width="5" height="20" fill="#ACE5DC"/>
<rect x="488" y="482" width="5" height="20" fill="#ACE5DC"/>
<rect x="494" y="487" width="5" height="15" fill="#ACE5DC"/>
<rect x="500" y="491" width="5" height="11" fill="#ACE5DC"/>
<rect x="506" y="496" width="5" height="6" fill="#ACE5DC"/>
<rect x="512" y="501" width="5" height="2" fill="#FF5252"/>
<rect x="518" y="501" width="5" height="7" fill="#FF5252"/>
<rect x="524" y="501" width="5" height="15" fill="#FF5252"/>
<rect x="530" y="501" width="5" height="15" fill="#FF5252"/>
<rect x="536" y="501" width="5" height="19" fill="#FF5252"/>
<rect x="542" y="501" width="5" height="19" fill="#FF5252"/>
<rect x="548" y="501" width="5" height="16" fill="#FCCBCD"/>
<rect x="554" y="501" width="5" height="17" fill="#FF5252"/>
<rect x="560" y="501" width="5" height="18" fill="#FF5252"/>
<rect x="566" y="501" width="5" height="17" fill="#FCCBCD"/>
<rect x="572" y="501" width="5" height="18" fill="#FF5252"/>
<rect x="578" y="501" width="5" height="17" fill="#FCCBCD"/>
<rect x="584" y="501" width="5" height="17" fill="#FCCBCD"/>
<rect x="590" y="501" width="5" height="18" fill="#FF5252"/>
<rect x="596" y="501" width="5" height="17" fill="#FCCBCD"/>
<rect x="602" y="501" width="5" height="15" fill="#FCCBCD"/>
<rect x="608" y="501" width="5" height="12" fill="#FCCBCD"/>
<rect x="614" y="501" width="5" height="11" fill="#FCCBCD"/>
<rect x="620" y="501" width="5" height="9" fill="#FCCBCD"/>
<rect x="626" y="501" width="5" height="6" fill="#FCCBCD"/>
<rect x="632" y="501" width="5" height="4" fill="#FCCBCD"/>
<rect x="638" y="500" width="5" height="2" fill="#22AB94"/>
<rect x="644" y="501" width="5" height="2" fill="#FF5252"/>
<rect x="650" y="501" width="5" height="6" fill="#FF5252"/>
<rect x="656" y="501" width="5" height="6" fill="#FF5252"/>
<rect x="662" y="501" width="5" height="5" fill="#FCCBCD"/>
<rect x="668" y="501" width="5" height="7" fill="#FF5252"/>
<rect x="674" y="501" width="5" height="8" fill="#FF5252"/>
<rect x="680" y="501" width="5" height="10" fill="#FF5252"/>
</g>
<polyline points="-1.5,464.61 4.5,458.06 10.5,448.59 16.5,440.42 22.5,431.51 28.5,426.48 34.5,421.58 40.5,421.57 46.5,424.23 52.5,424.93 58.5,427.27 64.5,430.68 70.5,432.13 76.5,432.09 82.5,421.76 88.5,416.25 94.5,414.23 100.5,410.41 106.5,405.65 112.5,408.22 118.5,417.47 124.5,423.96 130.5,423.80 136.5,430.03 142.5,436.69 148.5,458.66 154.5,471.48 160.5,485.32 166.5,497.20 172.5,509.08 178.5,517.15 184.5,522.89 190.5,528.80 196.5,535.90 202.5,545.29 208.5,555.40 214.5,555.26 220.5,551.65 226.5,547.21 232.5,543.37 238.5,538.49 244.5,531.37 250.5,522.64 256.5,513.10 262.5,511.84 268.5,512.56 274.5,515.13 280.5,516.87 286.5,518.73 292.5,514.72 298.5,516.73 304.5,515.33 310.5,518.23 316.5,524.11 322.5,527.69 328.5,524.07 334.5,518.76 340.5,518.45 346.5,521.28 352.5,522.24 358.5,519.70 364.5,514.28 370.5,503.35 376.5,492.76 382.5,482.59 388.5,476.16 394.5,472.89 400.5,471.48 406.5,469.52 412.5,468.72 418.5,457.30 424.5,449.78 430.5,443.54 436.5,442.34 442.5,438.04 448.5,435.88 454.5,431.05 460.5,425.44 466.5,418.39 472.5,413.60 478.5,407.56 484.5,405.02 490.5,400.68 496.5,401.48 502.5,402.98 508.5,406.78 514.5,413.22 520.5,420.55 526.5,431.20 532.5,435.62 538.5,444.39 544.5,448.58 550.5,449.46 556.5,454.46 562.5,459.78 568.5,462.26 574.5,467.61 580.5,470.68 586.5,474.59 592.5,479.03 598.5,482.15 604.5,483.73 610.5,484.15 616.5,484.96 622.5,485.47 628.5,483.26 634.5,481.81 640.5,477.93 646.5,480.59 652.5,485.17 658.5,486.95 664.5,487.44 670.5,490.15 676.5,493.20 682.5,497.35" fill="none" stroke="#2196F3" stroke-width="1" stroke-linejoin="round" stroke-linecap="round"/>
<polyline points="-1.5,488.54 4.5,482.42 10.5,475.44 16.5,468.19 22.5,460.46 28.5,453.31 34.5,446.80 40.5,441.74 46.5,438.26 52.5,435.55 58.5,433.84 64.5,433.28 70.5,433.14 76.5,432.94 82.5,430.72 88.5,427.77 94.5,425.07 100.5,422.13 106.5,418.74 112.5,416.59 118.5,416.85 124.5,418.30 130.5,419.48 136.5,421.67 142.5,424.93 148.5,431.79 154.5,439.92 160.5,449.12 166.5,458.89 172.5,468.92 178.5,478.66 184.5,487.33 190.5,495.48 196.5,503.61 202.5,511.93 208.5,520.52 214.5,527.20 220.5,532.14 226.5,535.14 232.5,536.97 238.5,537.53 244.5,536.35 250.5,533.69 256.5,529.62 262.5,526.09 268.5,523.32 274.5,521.53 280.5,520.47 286.5,520.15 292.5,519.09 298.5,518.54 304.5,517.74 310.5,517.67 316.5,519.07 322.5,520.95 328.5,521.84 334.5,521.28 340.5,520.74 346.5,520.91 352.5,521.32 358.5,520.99 364.5,519.91 370.5,516.86 376.5,512.30 382.5,506.46 388.5,500.29 394.5,494.57 400.5,489.88 406.5,485.71 412.5,482.12 418.5,477.01 424.5,471.41 430.5,465.59 436.5,460.82 442.5,456.11 448.5,451.92 454.5,447.74 460.5,443.32 466.5,438.44 472.5,433.51 478.5,428.29 484.5,423.60 490.5,418.92 496.5,415.48 502.5,413.02 508.5,411.78 514.5,412.21 520.5,413.87 526.5,417.52 532.5,421.18 538.5,425.83 544.5,430.40 550.5,434.19 556.5,438.20 562.5,442.42 568.5,446.38 574.5,450.57 580.5,454.50 586.5,458.45 592.5,462.66 598.5,466.65 604.5,470.14 610.5,472.87 616.5,475.31 622.5,477.23 628.5,478.42 634.5,479.17 640.5,478.73 646.5,479.04 652.5,480.34 658.5,481.64 664.5,482.70 670.5,484.26 676.5,486.10 682.5,488.45" fill="none" stroke="#FF4081" stroke-width="2" stroke-linejoin="round" stroke-linecap="round"/>
<g fill="#fff" fill-opacity="0.9"><rect x="5" y="5" width="187" height="22"/><rect x="5" y="33" width="87" height="16"/><rect x="5" y="392" width="121" height="16"/></g>
<g style="filter:opacity(0.999)">
<text x="755.5" y="21.5" font-size="12" fill="#131722" stroke="#131722" textLength="35" lengthAdjust="spacing">4320.0</text>
<text x="755.5" y="62.8" font-size="12" fill="#131722" stroke="#131722" textLength="35" lengthAdjust="spacing">4280.0</text>
<text x="755.5" y="104.0" font-size="12" fill="#131722" stroke="#131722" textLength="35" lengthAdjust="spacing">4240.0</text>
<text x="755.5" y="145.2" font-size="12" fill="#131722" stroke="#131722" textLength="35" lengthAdjust="spacing">4200.0</text>
<text x="755.5" y="186.5" font-size="12" fill="#131722" stroke="#131722" textLength="35" lengthAdjust="spacing">4160.0</text>
<text x="755.5" y="227.8" font-size="12" fill="#131722" stroke="#131722" textLength="35" lengthAdjust="spacing">4120.0</text>
<text x="755.5" y="269.0" font-size="12" fill="#131722" stroke="#131722" textLength="35" lengthAdjust="spacing">4080.0</text>
<text x="755.5" y="310.2" font-size="12" fill="#131722" stroke="#131722" textLength="35" lengthAdjust="spacing">4040.0</text>
<text x="755.5" y="351.5" font-size="12" fill="#131722" stroke="#131722" textLength="35" lengthAdjust="spacing">4000.0</text>
<text x="755.5" y="420.9" font-size="12" fill="#131722" stroke="#131722" textLength="22.5" lengthAdjust="spacing">40.0</text>
<text x="755.5" y="463.1" font-size="12" fill="#131722" stroke="#131722" textLength="22.5" lengthAdjust="spacing">20.0</text>
<text x="755.5" y="505.3" font-size="12" fill="#131722" stroke="#131722" textLength="16.3" lengthAdjust="spacing">0.0</text>
<text x="755.5" y="547.5" font-size="12" fill="#131722" stroke="#131722" textLength="28.5" lengthAdjust="spacing">−20.0</text>
<path d="M746 113h48a2 2 0 0 1 2 2v13a2 2 0 0 1-2 2h-48z" fill="#F23645"/>
<text x="756.5" y="125.7" font-size="12" fill="#fff" stroke="#fff" textLength="34.3" lengthAdjust="spacing">4219.2</text>
<text x="28.5" y="589.8" font-size="12" fill="#131722" stroke="#131722" text-anchor="middle">11</text>
<text x="136.5" y="589.8" font-size="12" fill="#131722" stroke="#131722" text-anchor="middle">14</text>
<text x="244.5" y="589.8" font-size="12" fill="#131722" stroke="#131722" text-anchor="middle">19</text>
<text x="346.5" y="589.8" font-size="12" fill="#131722" stroke="#131722" text-anchor="middle">23</text>
<text x="592.5" y="589.8" font-size="12" fill="#131722" stroke="#131722" text-anchor="middle">4</text>
<text x="700.5" y="589.8" font-size="12" fill="#131722" stroke="#131722" text-anchor="middle">9</text>
<text x="474.2" y="589.8" font-size="12" fill="#131722" stroke="#131722" textLength="21.2" lengthAdjust="spacing" font-weight="bold">Dec</text>
<g fill="none" stroke="#131722" stroke-width="1.1" stroke-linecap="butt"><circle cx="773.5" cy="586.5" r="5"/>
<line x1="778.90" y1="586.50" x2="781.10" y2="586.50"/>
<line x1="777.32" y1="590.32" x2="778.87" y2="591.87"/>
<line x1="773.50" y1="591.90" x2="773.50" y2="594.10"/>
<line x1="769.68" y1="590.32" x2="768.13" y2="591.87"/>
<line x1="768.10" y1="586.50" x2="765.90" y2="586.50"/>
<line x1="769.68" y1="582.68" x2="768.13" y2="581.13"/>
<line x1="773.50" y1="581.10" x2="773.50" y2="578.90"/>
<line x1="777.32" y1="582.68" x2="778.87" y2="581.13"/>
</g>
<circle cx="23.5" cy="549.7" r="16.7" fill="#fff" stroke="#E9E9EB" stroke-width="1"/>
<g fill="#131722"><path d="M13 545.1H22V555.8H18V548.9H13Z"/><path d="M29.6 545.1H34.2L29.9 555.8H25.2Z"/><circle cx="25" cy="547" r="1.9"/></g>
<text y="21.6" font-size="15" fill="#131722" stroke="#131722" xml:space="preserve"><tspan x="9.3" y="21.6" textLength="96" lengthAdjust="spacing">Gold Futures </tspan><tspan x="104.3" y="20.6">· </tspan><tspan x="113" y="21.6">4h </tspan><tspan x="133.2" y="20.6">· </tspan><tspan x="141.6" y="21.6" textLength="50.5" lengthAdjust="spacing" font-size="14.5">COMEX</tspan></text>
<circle cx="216" cy="16" r="8.9" fill="#089981" fill-opacity="0.14"/><circle cx="216" cy="16" r="4.2" fill="#089981"/>
<text x="240.8" y="20.9" font-size="12.5" fill="#131722" stroke="#131722">O</text>
<text x="250.5" y="20.9" font-size="13" fill="#F23645" stroke="#F23645" textLength="40.5" lengthAdjust="spacing">4225.3</text>
<text x="296.8" y="20.9" font-size="12.5" fill="#131722" stroke="#131722">H</text>
<text x="306.8" y="20.9" font-size="13" fill="#F23645" stroke="#F23645" textLength="40.4" lengthAdjust="spacing">4227.0</text>
<text x="352.8" y="20.9" font-size="12.5" fill="#131722" stroke="#131722">L</text>
<text x="360.8" y="20.9" font-size="13" fill="#F23645" stroke="#F23645" textLength="40.0" lengthAdjust="spacing">4204.0</text>
<text x="406.5" y="20.9" font-size="12.5" fill="#131722" stroke="#131722">C</text>
<text x="415.9" y="20.9" font-size="13" fill="#F23645" stroke="#F23645" textLength="39.6" lengthAdjust="spacing">4219.2</text>
<text x="462.5" y="20.9" font-size="13" fill="#F23645" stroke="#F23645" textLength="25.4" lengthAdjust="spacing">−6.6</text>
<text x="492.5" y="20.9" font-size="13" fill="#F23645" stroke="#F23645" textLength="50.4" lengthAdjust="spacing">(−0.16%)</text>
<text x="9.2" y="44.5" font-size="12" fill="#131722" stroke="#131722" textLength="42.8" lengthAdjust="spacing">Volume</text>
<text y="44.5" font-size="11" fill="#50535E" stroke="#50535E" xml:space="preserve"><tspan x="56" y="44.5" textLength="23.2" lengthAdjust="spacing">SMA</tspan><tspan x="79.3" y="44.5"> 9</tspan></text>
<text x="103" y="44.5" font-size="12" fill="#F7525F" stroke="#F7525F" textLength="40.8" lengthAdjust="spacing">34.68K</text>
<text x="8.8" y="403" font-size="11" fill="#131722" stroke="#131722" textLength="33" lengthAdjust="spacing">MACD</text>
<text y="403" font-size="12" fill="#50535E" stroke="#50535E" xml:space="preserve"><tspan x="46.2" y="403">12 </tspan><tspan x="63.8" y="403">26 </tspan><tspan x="81.6" y="403" textLength="31" lengthAdjust="spacing">close </tspan><tspan x="115.3" y="403">9</tspan></text>
<text x="136.3" y="403" font-size="12" fill="#FF5252" stroke="#FF5252" textLength="24.6" lengthAdjust="spacing">−4.1</text>
<text x="168.2" y="403" font-size="12" fill="#2196F3" stroke="#2196F3" textLength="18" lengthAdjust="spacing">1.9</text>
<text x="193" y="403" font-size="12" fill="#FF4081" stroke="#FF4081" textLength="18.6" lengthAdjust="spacing">6.0</text>
</g>
</svg></body></html>
